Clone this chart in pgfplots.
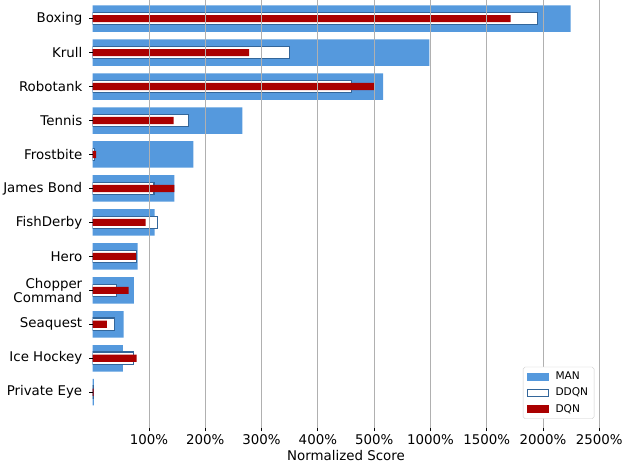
\documentclass[border=0pt]{standalone}
\usepackage{pgfplots}
\pgfplotsset{compat=1.18}
\usepackage{pgfplotstable}
\usepackage{fontspec}
\setmainfont{DejaVu Sans}

\definecolor{manblue}{HTML}{5599DD}
\definecolor{ddqnedge}{HTML}{33669A}
\definecolor{dqnred}{HTML}{AA0000}
\definecolor{gridgray}{HTML}{B0B0B0}

% normalized scores in %, idx 0 = Private Eye (bottom) ... 11 = Boxing (top)
\pgfplotstableread{
idx man  ddqn dqn
0   2    2    1.5
1   53.5 72   78
2   55   39   25
3   73   42   64
4   80   78   77
5   110  115  94
6   145  109  145
7   179  3.5  6
8   266  171  144
9   580  459  500
10  990  350  278
11  2245 1950 1713
}\scores

\begin{document}
\begin{tikzpicture}
\begin{axis}[
    scale only axis,
    width=509.6bp, height=430bp,
    xmin=0, xmax=9,
    ymin=-1.05, ymax=11.537,
    axis on top,
    axis line style={draw=none},
    % broken scale: linear 0-500 %, then 500 % per step
    x filter/.expression={x<=500 ? x/100 : 5+(x-500)/500},
    xtick={1,...,9},
    xticklabels={100\%,200\%,300\%,400\%,500\%,1000\%,1500\%,2000\%,2500\%},
    ytick={0,...,11},
    yticklabels={Private Eye,Ice Hockey,Seaquest,{Chopper\\Command},Hero,FishDerby,James Bond,Frostbite,Tennis,Robotank,Krull,Boxing},
    yticklabel style={align=right},
    yticklabel shift=3.5bp,
    ticklabel style={font=\fontsize{13.5}{14.5}\selectfont},
    label style={font=\fontsize{13.5}{14.5}\selectfont},
    xlabel style={yshift=1bp},
    xtick pos=bottom, ytick pos=left,
    tick align=outside,
    major tick length=3.5bp,
    tick style={black, line width=0.8bp},
    xmajorgrids,
    grid style={gridgray, line width=0.8bp},
    xlabel={Normalized Score},
    legend style={
        at={(0.99,0.021)}, anchor=south east,
        draw=black!20, rounded corners=2bp, fill=white,
        font=\fontsize{10.7}{12}\selectfont,
        row sep=3bp, inner xsep=4bp, inner ysep=3bp,
        legend cell align=left,
    },
]
\addplot[xbar, bar shift=0pt, bar width=0.78, fill=manblue, draw=none,
    legend image code/.code={\fill[sharp corners, manblue] (0bp,-4bp) rectangle (22bp,4bp); \path (26bp,0);}]
    table[x=man, y=idx] {\scores};
\addplot[xbar, bar shift=0pt, bar width=0.37, fill=white, draw=ddqnedge, line width=1.1bp,
    legend image code/.code={\draw[sharp corners, ddqnedge, fill=white, line width=1.1bp] (0.5bp,-3.5bp) rectangle (21.5bp,3.5bp); \path (26bp,0);}]
    table[x=ddqn, y=idx] {\scores};
\addplot[xbar, bar shift=0pt, bar width=0.21, fill=dqnred, draw=none,
    legend image code/.code={\fill[sharp corners, dqnred] (0bp,-4bp) rectangle (22bp,4bp); \path (26bp,0);}]
    table[x=dqn, y=idx] {\scores};
\legend{MAN,DDQN,DQN}
\end{axis}
\end{tikzpicture}
\end{document}
